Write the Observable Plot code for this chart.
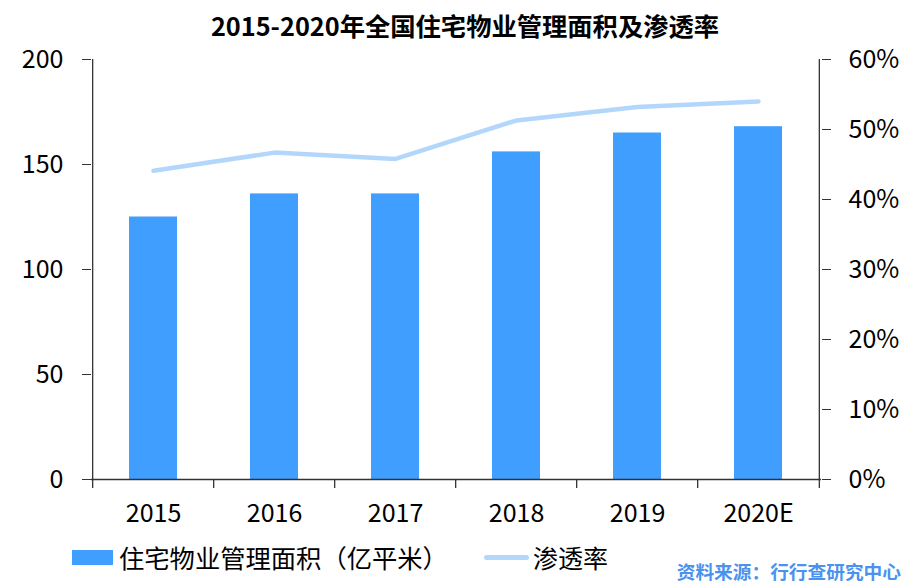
<!DOCTYPE html>
<html>
<head>
<meta charset="utf-8">
<script src="https://cdn.jsdelivr.net/npm/d3@7"></script>
<script src="https://cdn.jsdelivr.net/npm/@observablehq/plot@0.6"></script>
<style>
  html, body { margin: 0; padding: 0; background: #fff; }
  #wrap { position: relative; width: 922px; height: 588px; font-family: "Noto Sans CJK SC", "Noto Sans", sans-serif; color: #000; overflow: hidden; }
  #title { position: absolute; left: 0; top: 0; width: 922px; padding-left: 8px; box-sizing: border-box; text-align: center; font-size: 25.3px; font-weight: bold; line-height: 50px; }
  #chart { position: absolute; left: 0; top: 45px; }
  .lg { position: absolute; white-space: nowrap; }
</style>
</head>
<body>
<div id="wrap">
  <div id="title"></div>
  <div id="chart"></div>
  <div id="legend"></div>
</div>
<script>
const titleText = "2015-2020年全国住宅物业管理面积及渗透率";
const years = ["2015", "2016", "2017", "2018", "2019", "2020E"];
const area = [125, 136, 136, 156, 165, 168];          // 亿平米
const rate = [44.1, 46.7, 45.8, 51.3, 53.2, 54.0];    // %
const leftTicks = [0, 50, 100, 150, 200];
const rightTicks = [0, 10, 20, 30, 40, 50, 60];
const seriesNames = ["住宅物业管理面积（亿平米）", "渗透率"];
const sourceText = "资料来源：行行查研究中心";

const barColor = "#409eff";
const lineColor = "#b3d7fb";
const axisColor = "#333";

const data = years.map((y, i) => ({year: y, area: area[i], rate: rate[i]}));
const K = 200 / 60;

const W = 922, H = 490, mL = 91, mR = 101, mT = 14, mB = 56;
const step = (W - mL - mR) / years.length;

document.getElementById("title").textContent = titleText;

const chart = Plot.plot({
  width: W, height: H,
  marginTop: mT, marginBottom: mB, marginLeft: mL, marginRight: mR,
  style: {fontSize: "25px", fontFamily: "'Noto Sans CJK SC', 'Noto Sans', sans-serif", color: "#000", background: "transparent", overflow: "visible"},
  x: {domain: years, paddingInner: 0.6, paddingOuter: 0.3},
  y: {domain: [0, 200]},
  marks: [
    Plot.barY(data, {x: "year", y: "area", fill: barColor}),
    Plot.line(data, {x: "year", y: d => d.rate * K, stroke: lineColor, strokeWidth: 4.5, strokeLinecap: "round", strokeLinejoin: "round"}),
    Plot.ruleY([0], {stroke: axisColor, strokeWidth: 1.3}),
    Plot.ruleX([years[0]], {dx: -step / 2, stroke: axisColor, strokeWidth: 1.3, insetBottom: -9}),
    Plot.ruleX([years[years.length - 1]], {dx: step / 2, stroke: axisColor, strokeWidth: 1.3, insetBottom: -9}),
    Plot.ruleX(years.slice(1), {dx: -step / 2, y1: 0, y2: 0, stroke: axisColor, strokeWidth: 1.3, insetBottom: -9}),
    Plot.axisY(leftTicks, {anchor: "left", tickSize: 9, tickPadding: 19, stroke: axisColor, fill: "#000", label: null}),
    Plot.axisY(rightTicks.map(v => v * K), {anchor: "right", tickSize: 9, tickPadding: 18, stroke: axisColor, fill: "#000", label: null, tickFormat: v => Math.round(v / K) + "%"}),
    Plot.axisX({tickSize: 0, tickPadding: 25, fill: "#000", label: null})
  ]
});
document.getElementById("chart").appendChild(chart);

const lg = document.getElementById("legend");
lg.innerHTML = `
  <div class="lg" style="left:72px;top:550px;width:41px;height:15px;background:${barColor}"></div>
  <div class="lg" style="left:119px;top:542px;font-size:25.3px;line-height:30px">${seriesNames[0]}</div>
  <div class="lg" style="left:484px;top:555px;width:45px;height:5px;border-radius:3px;background:${lineColor}"></div>
  <div class="lg" style="left:533px;top:542px;font-size:25px;line-height:30px">${seriesNames[1]}</div>
  <div class="lg" style="right:21px;top:559px;font-size:18.7px;line-height:24px;font-weight:bold;color:#4b92ee">${sourceText}</div>
`;
</script>
</body>
</html>
